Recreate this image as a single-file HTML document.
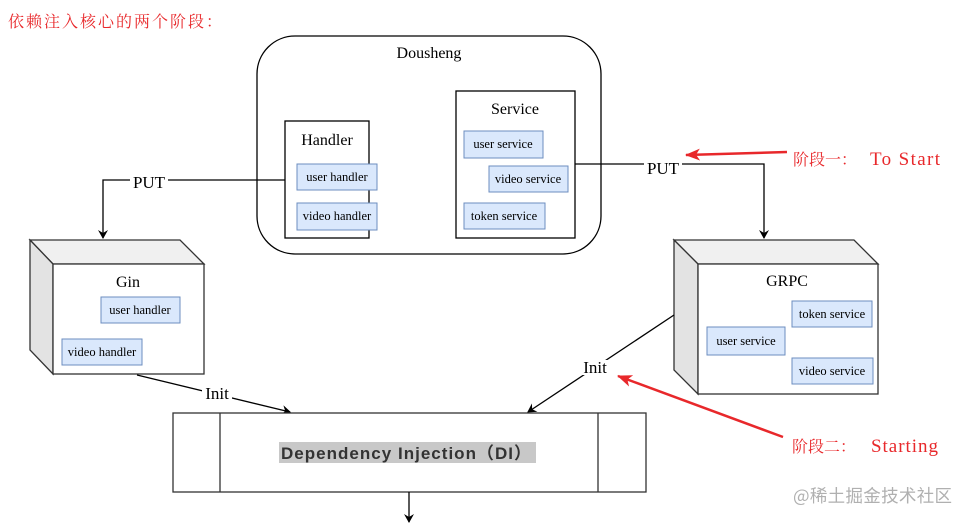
<!DOCTYPE html>
<html><head><meta charset="utf-8"><style>
html,body{margin:0;padding:0;background:#fff;width:969px;height:523px;overflow:hidden}
svg{display:block}
.s{font-family:"Liberation Serif","Noto Serif CJK SC",serif;fill:#000}
.b{fill:#dae8fc;stroke:#6c8ebf;stroke-width:1}
</style></head><body>
<svg width="969" height="523" viewBox="0 0 969 523" xmlns="http://www.w3.org/2000/svg">
<defs>
<marker id="a" markerWidth="10" markerHeight="10" refX="8" refY="5" orient="auto" markerUnits="userSpaceOnUse"><path d="M0,0 L9,5 L0,10 L3,5 z" fill="#000"/></marker>
<marker id="r" markerWidth="16" markerHeight="12" refX="14" refY="6" orient="auto" markerUnits="userSpaceOnUse"><path d="M0,0 L15,6 L0,12 L4,6 z" fill="#e8282b"/></marker>
</defs>
<text x="8" y="27" font-size="16" fill="#e8282b" textLength="214" lengthAdjust="spacing" style="font-family:'Noto Serif CJK SC',serif">依赖注入核心的两个阶段：</text>

<rect x="257" y="36" width="344" height="218" rx="38" fill="#fff" stroke="#000" stroke-width="1.3"/>
<text x="429" y="58" class="s" font-size="16" text-anchor="middle">Dousheng</text>

<rect x="285" y="121" width="84" height="117" fill="#fff" stroke="#000" stroke-width="1.3"/>
<text x="327" y="145" class="s" font-size="16" text-anchor="middle">Handler</text>
<rect x="297" y="164" width="80" height="26" class="b"/><text x="337" y="181" class="s" font-size="12.5" text-anchor="middle">user handler</text>
<rect x="297" y="203" width="80" height="27" class="b"/><text x="337" y="220" class="s" font-size="12.5" text-anchor="middle">video handler</text>

<rect x="456" y="91" width="119" height="147" fill="#fff" stroke="#000" stroke-width="1.3"/>
<text x="515" y="114" class="s" font-size="16" text-anchor="middle">Service</text>
<rect x="464" y="131" width="79" height="27" class="b"/><text x="503" y="148" class="s" font-size="12.5" text-anchor="middle">user service</text>
<rect x="489" y="166" width="79" height="26" class="b"/><text x="528" y="183" class="s" font-size="12.5" text-anchor="middle">video service</text>
<rect x="464" y="203" width="81" height="26" class="b"/><text x="504" y="220" class="s" font-size="12.5" text-anchor="middle">token service</text>

<path d="M285,180 H103 V238" fill="none" stroke="#000" stroke-width="1.3" marker-end="url(#a)"/>
<rect x="130" y="172" width="38" height="16" fill="#fff"/>
<text x="149" y="188" class="s" font-size="17" text-anchor="middle">PUT</text>
<path d="M575,164 H764 V238" fill="none" stroke="#000" stroke-width="1.3" marker-end="url(#a)"/>
<rect x="644" y="158" width="38" height="16" fill="#fff"/>
<text x="663" y="174" class="s" font-size="17" text-anchor="middle">PUT</text>

<line x1="787" y1="152" x2="686" y2="155" stroke="#e8282b" stroke-width="2.5" marker-end="url(#r)"/>
<text x="793" y="165" font-size="16" fill="#e8282b" style="font-family:'Noto Serif CJK SC',serif">阶段一：</text>
<text x="870" y="165" font-size="19" textLength="70" class="s" style="fill:#e8282b">To Start</text>

<!-- Gin cube -->
<polygon points="30,240 180,240 204,264 53,264" fill="#f0f0f0" stroke="#333" stroke-width="1.3"/>
<polygon points="30,240 53,264 53,374 30,350" fill="#e3e3e3" stroke="#333" stroke-width="1.3"/>
<rect x="53" y="264" width="151" height="110" fill="#fff" stroke="#333" stroke-width="1.3"/>
<text x="128" y="287" class="s" font-size="16" text-anchor="middle">Gin</text>
<rect x="101" y="297" width="79" height="26" class="b"/><text x="140" y="314" class="s" font-size="12.5" text-anchor="middle">user handler</text>
<rect x="62" y="339" width="80" height="26" class="b"/><text x="102" y="356" class="s" font-size="12.5" text-anchor="middle">video handler</text>

<!-- GRPC cube -->
<polygon points="674,240 854,240 878,264 698,264" fill="#f0f0f0" stroke="#333" stroke-width="1.3"/>
<polygon points="674,240 698,264 698,394 674,370" fill="#e3e3e3" stroke="#333" stroke-width="1.3"/>
<rect x="698" y="264" width="180" height="130" fill="#fff" stroke="#333" stroke-width="1.3"/>
<text x="787" y="286" class="s" font-size="16" text-anchor="middle">GRPC</text>
<rect x="792" y="301" width="80" height="26" class="b"/><text x="832" y="318" class="s" font-size="12.5" text-anchor="middle">token service</text>
<rect x="707" y="327" width="78" height="28" class="b"/><text x="746" y="345" class="s" font-size="12.5" text-anchor="middle">user service</text>
<rect x="792" y="358" width="81" height="26" class="b"/><text x="832" y="375" class="s" font-size="12.5" text-anchor="middle">video service</text>

<!-- Init connectors -->
<line x1="137" y1="375" x2="290" y2="412" stroke="#000" stroke-width="1.3" marker-end="url(#a)"/>
<rect x="202" y="386" width="30" height="15" fill="#fff"/>
<text x="217" y="399" class="s" font-size="17" text-anchor="middle">Init</text>
<line x1="674" y1="315" x2="528" y2="412" stroke="#000" stroke-width="1.3" marker-end="url(#a)"/>
<rect x="580" y="360" width="30" height="15" fill="#fff"/>
<text x="595" y="373" class="s" font-size="17" text-anchor="middle">Init</text>

<line x1="783" y1="437" x2="618" y2="376" stroke="#e8282b" stroke-width="2.5" marker-end="url(#r)"/>
<text x="792" y="452" font-size="16" fill="#e8282b" style="font-family:'Noto Serif CJK SC',serif">阶段二：</text>
<text x="871" y="452" font-size="19" textLength="67" class="s" style="fill:#e8282b">Starting</text>

<!-- DI -->
<rect x="173" y="413" width="473" height="79" fill="#fff" stroke="#333" stroke-width="1.3"/>
<line x1="220" y1="413" x2="220" y2="492" stroke="#333" stroke-width="1.3"/>
<line x1="598" y1="413" x2="598" y2="492" stroke="#333" stroke-width="1.3"/>
<rect x="279" y="442" width="257" height="21" fill="#c8c8c8"/>
<text x="281" y="459" font-size="17" font-weight="bold" fill="#333" textLength="250" lengthAdjust="spacing" style="font-family:'Liberation Sans','Noto Sans CJK SC',sans-serif">Dependency Injection（DI）</text>
<line x1="409" y1="492" x2="409" y2="522" stroke="#000" stroke-width="1.3" marker-end="url(#a)"/>

<text x="793" y="502" font-size="17.5" fill="#b0b0b0" textLength="159" style="font-family:'Noto Sans CJK SC',sans-serif">@稀土掘金技术社区</text>
</svg>
</body></html>
